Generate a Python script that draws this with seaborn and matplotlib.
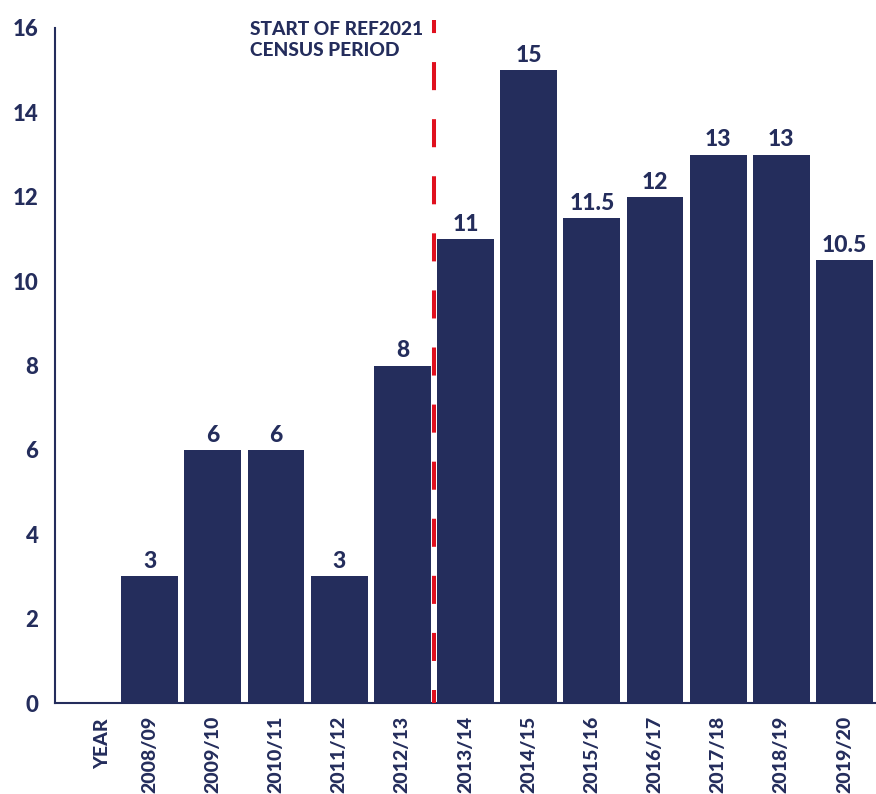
import matplotlib
matplotlib.use("Agg")
import matplotlib.pyplot as plt
import matplotlib.transforms as mtransforms
import pandas as pd
import seaborn as sns

# Outputs per academic year
years = ["2008/09", "2009/10", "2010/11", "2011/12", "2012/13", "2013/14",
         "2014/15", "2015/16", "2016/17", "2017/18", "2018/19", "2019/20"]
counts = [3, 6, 6, 3, 8, 11, 15, 11.5, 12, 13, 13, 10.5]
axis_label = "YEAR"
y_ticks = [0, 2, 4, 6, 8, 10, 12, 14, 16]
census_start = "2013/14"
census_note = "START OF REF2021\nCENSUS PERIOD"

NAVY = "#242d5c"
RED = "#e0101e"

sns.set_theme(style="white")
plt.rcParams["font.family"] = ["Lato", "DejaVu Sans"]
plt.rcParams["lines.scale_dashes"] = False

fig = plt.figure(figsize=(8.76, 7.94), dpi=100)
ax = fig.add_axes([55 / 876, 91 / 794, 821 / 876, 675 / 794])

df = pd.DataFrame({"year": years, "count": counts})
order = [axis_label] + years
sns.barplot(data=df, x="year", y="count", order=order, color=NAVY,
            saturation=1, width=0.9, linewidth=0, ax=ax)

# value labels on top of each bar
for cont in ax.containers:
    ax.bar_label(cont, fmt="{:g}", padding=3, color=NAVY, fontsize=16.5,
                 fontweight="black")

ax.set_xlim(-0.5, len(order) - 0.5)
ax.set_ylim(0, 16)
ax.set_yticks(y_ticks)
ax.set_xlabel("")
ax.set_ylabel("")

for side in ("top", "right"):
    ax.spines[side].set_visible(False)
for side in ("left", "bottom"):
    ax.spines[side].set_color(NAVY)
    ax.spines[side].set_linewidth(1.5)

ax.tick_params(axis="y", direction="in", length=18, width=1.5, color=NAVY,
               pad=12, labelsize=16, labelcolor=NAVY)
ax.tick_params(axis="x", length=0, pad=9, labelsize=14, labelcolor=NAVY,
               rotation=90)
for lab in ax.get_yticklabels() + ax.get_xticklabels():
    lab.set_fontweight("black")

# nudge the axis-name label to the right within its empty slot
first = ax.get_xticklabels()[0]
first.set_transform(first.get_transform() +
                    mtransforms.ScaledTranslation(0.16, -0.03, fig.dpi_scale_trans))

# census period marker
x_line = order.index(census_start) - 0.5
y_top = 16.19
ax.plot([x_line, x_line], [y_top, 0], color=RED, lw=2.9,
        linestyle=(10.8, (20.2, 20.9)), dash_capstyle="butt",
        clip_on=False, zorder=5)
ax.annotate(census_note, xy=(x_line, y_top), xytext=(-8, -1),
            textcoords="offset points", ha="right", va="top",
            multialignment="left", color=NAVY, fontsize=13.8,
            fontweight="black", linespacing=1.25, annotation_clip=False)

fig.savefig("out.png", dpi=100)
